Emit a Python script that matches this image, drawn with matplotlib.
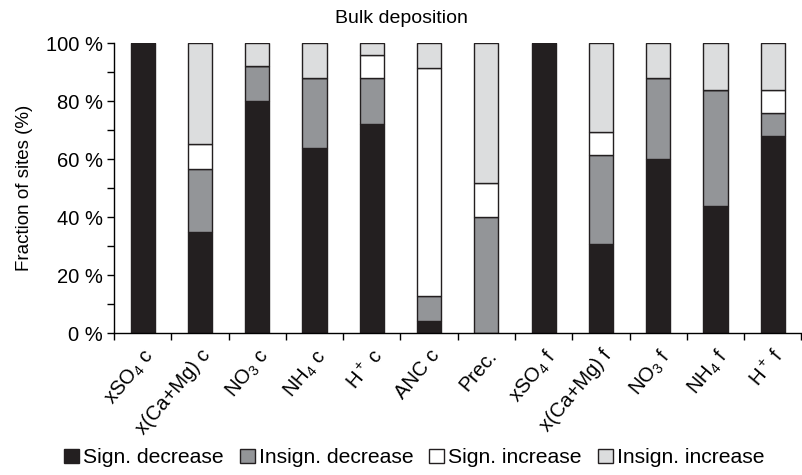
import numpy as np
import matplotlib.pyplot as plt
from matplotlib.patches import Patch

plt.rcParams['font.family'] = ['Liberation Sans', 'DejaVu Sans']
plt.rcParams['mathtext.fontset'] = 'custom'
plt.rcParams['mathtext.rm'] = 'Liberation Sans'
plt.rcParams['mathtext.it'] = 'Liberation Sans:italic'
plt.rcParams['mathtext.default'] = 'regular'

# data (% of sites)
labels = [r'xSO$_4$ c', 'x(Ca+Mg) c', r'NO$_3$ c', r'NH$_4$ c', r'H$^+$ c', 'ANC c',
          'Prec.', r'xSO$_4$ f', 'x(Ca+Mg) f', r'NO$_3$ f', r'NH$_4$ f', r'H$^+$ f']
sig_dec = [100, 34.8, 80, 64, 72, 4.3, 0, 100, 30.8, 60, 44, 68]
insig_dec = [0, 21.7, 12, 24, 16, 8.7, 40, 0, 30.8, 28, 40, 8]
sig_inc = [0, 8.7, 0, 0, 8, 78.3, 12, 0, 7.7, 0, 0, 8]
insig_inc = [0, 34.8, 8, 12, 4, 8.7, 48, 0, 30.8, 12, 16, 16]

series = [sig_dec, insig_dec, sig_inc, insig_inc]
names = ['Sign. decrease', 'Insign. decrease', 'Sign. increase', 'Insign. increase']
colors = ['#231f20', '#939598', '#ffffff', '#dcddde']

fig = plt.figure(figsize=(8.03, 4.75), dpi=100)
ax = fig.add_axes([0.142, 0.298, 0.856, 0.611])

x = np.arange(len(labels))
bottom = np.zeros(len(labels))
for vals, c in zip(series, colors):
    vals = np.array(vals, dtype=float)
    ax.bar(x, vals, width=0.42, bottom=bottom, color=c, edgecolor='#231f20',
           linewidth=1.0)
    bottom += vals

ax.set_xlim(-0.5, len(labels) - 0.5)
ax.set_ylim(0, 100)
ax.spines['top'].set_visible(False)
ax.spines['right'].set_visible(False)
ax.spines['left'].set_linewidth(1.0)
ax.spines['bottom'].set_linewidth(1.0)

ax.set_yticks(np.arange(0, 101, 20))
ax.set_yticklabels([f'{v} %' for v in range(0, 101, 20)], fontsize=14.5)
ax.set_yticks(np.arange(10, 100, 20), minor=True)
ax.tick_params(axis='y', which='both', direction='out', length=5, width=1.0, pad=3)

ax.set_xticks(x)
ax.set_xticklabels(labels, rotation=50, ha='right', rotation_mode='anchor', fontsize=14.5)
ax.set_xticks(np.arange(-0.5, len(labels), 1), minor=True)
ax.tick_params(axis='x', which='major', length=0, pad=9)
ax.tick_params(axis='x', which='minor', direction='out', length=5, width=1.0)

ax.set_ylabel('Fraction of sites (%)', fontsize=13.5, labelpad=9)
fig.text(0.5, 0.962, 'Bulk deposition', ha='center', va='center', fontsize=14)

handles = [Patch(facecolor=c, edgecolor='#231f20', linewidth=1.0) for c in colors]
fig.legend(handles, names, loc='center', bbox_to_anchor=(0.516, 0.036), ncol=4,
           frameon=False, fontsize=15.2, handlelength=0.7, handleheight=0.7,
           handletextpad=0.2, columnspacing=0.75, borderaxespad=0, borderpad=0)

fig.savefig('out.png', dpi=100)
